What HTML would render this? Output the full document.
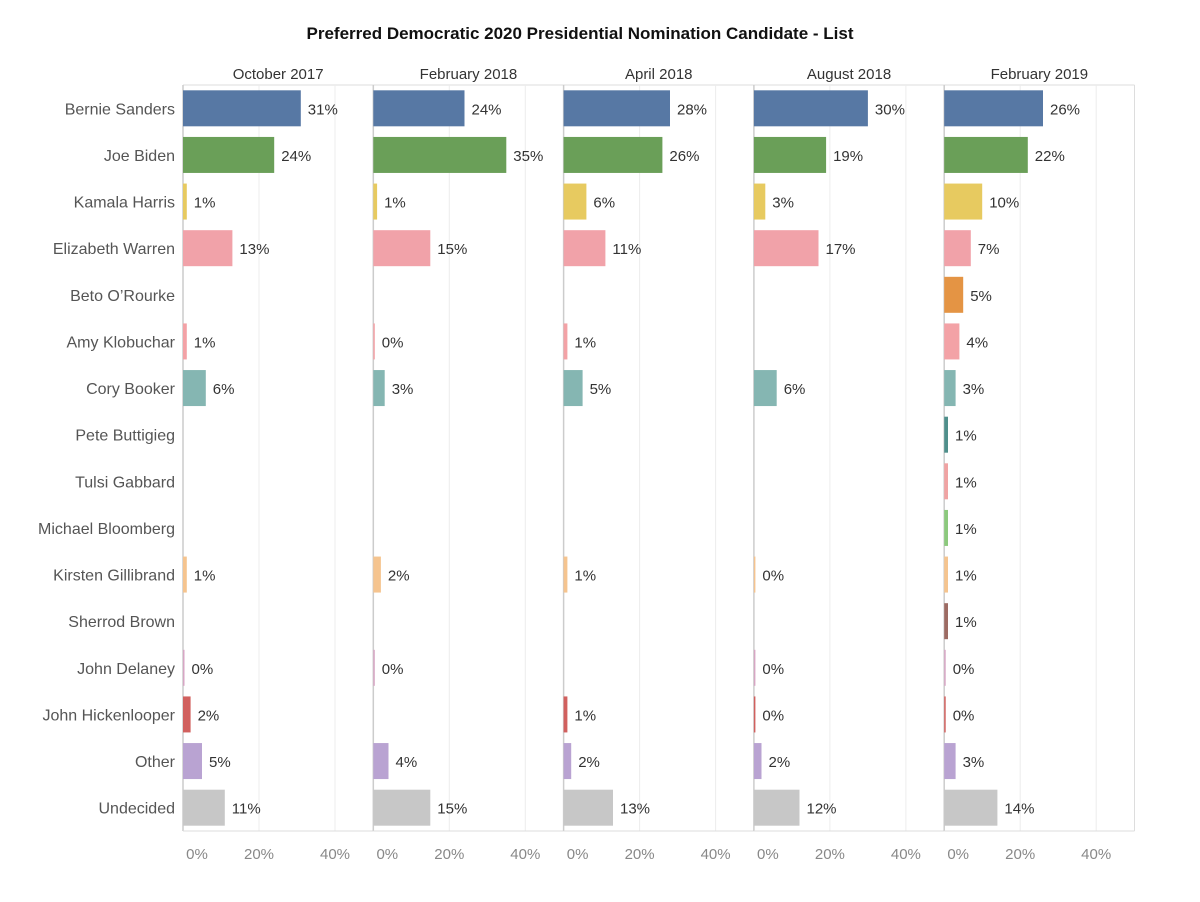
<!DOCTYPE html>
<html><head><meta charset="utf-8"><style>
body{margin:0;background:#fff;}
svg text{font-family:"Liberation Sans",sans-serif;}
</style></head><body>
<svg id="chart" width="1200" height="897"></svg>
<script>
const candidates=["Bernie Sanders","Joe Biden","Kamala Harris","Elizabeth Warren","Beto O\u2019Rourke","Amy Klobuchar","Cory Booker","Pete Buttigieg","Tulsi Gabbard","Michael Bloomberg","Kirsten Gillibrand","Sherrod Brown","John Delaney","John Hickenlooper","Other","Undecided"];
const periods=["October 2017","February 2018","April 2018","August 2018","February 2019"];
const oct2017=[31,24,1,13,null,1,6,null,null,null,1,null,0,2,5,11];
const feb2018=[24,35,1,15,null,0,3,null,null,null,2,null,0,null,4,15];
const apr2018=[28,26,6,11,null,1,5,null,null,null,1,null,null,1,2,13];
const aug2018=[30,19,3,17,null,null,6,null,null,null,0,null,0,0,2,12];
const feb2019=[26,22,10,7,5,4,3,1,1,1,1,1,0,0,3,14];
const series=[oct2017,feb2018,apr2018,aug2018,feb2019];
const ticks=[0,20,40];
const colors=["#5778a4","#6a9f58","#e7ca60","#f1a2a9","#e49444","#f3a2a6","#85b6b2","#4f8f8b","#f0a3a3","#8cc97d","#f5c48f","#9d6b63","#d7a6c4","#d1605e","#b9a3d2","#c7c7c7"];
const svg=document.getElementById('chart');
const NS="http://www.w3.org/2000/svg";
function mk(t,a,p){const e=document.createElementNS(NS,t);for(const k in a)e.setAttribute(k,a[k]);(p||svg).appendChild(e);return e;}
const top0=85,bottom0=831,rowH=(bottom0-top0)/candidates.length;
const left0=183,panelW=190.3,pxPer=3.8;
const y=i=>top0+rowH*(i+0.5);
const x=(p,v)=>left0+p*panelW+v*pxPer;
let t=mk('text',{x:580,y:39,'text-anchor':'middle','font-size':17,'font-weight':'bold',fill:'#111'});
t.textContent="Preferred Democratic 2020 Presidential Nomination Candidate - List";


// outer frame lines
let fr=mk('line',{x1:left0,y1:top0,x2:left0+5*panelW,y2:top0,stroke:'#ddd'});


fr=mk('line',{x1:left0+5*panelW,y1:top0,x2:left0+5*panelW,y2:bottom0,stroke:'#ddd'});


candidates.forEach((c,i)=>{
  const l=mk('text',{x:175,y:y(i)+6,'text-anchor':'end','font-size':16,fill:'#555'});
  l.textContent=c;
  
  
});
periods.forEach((p,pi)=>{
  const g=mk('g',{});
  
  
  const h=mk('text',{x:left0+pi*panelW+panelW/2,y:79,'text-anchor':'middle','font-size':15,fill:'#333'},g);
  h.textContent=p;
  
  
  ticks.forEach(tv=>{
    if(tv>0){const gl=mk('line',{x1:x(pi,tv),y1:top0,x2:x(pi,tv),y2:bottom0,stroke:'#ececec'},g);
    
    }
    const tl=mk('text',{x:tv===0?x(pi,tv)+14:x(pi,tv),y:859,'text-anchor':'middle','font-size':15,fill:'#888'},g);
    tl.textContent=tv+'%';
    
    
  });
  const ax=mk('line',{x1:x(pi,0),y1:top0,x2:x(pi,0),y2:bottom0,stroke:'#ccc','stroke-width':1.5},g);
  
  
  const bl=mk('line',{x1:x(pi,0),y1:bottom0,x2:x(pi,0)+panelW,y2:bottom0,stroke:'#ddd'},g);
  
  
  series[pi].forEach((v,i)=>{
    if(v===null)return;
    const w=Math.max(v*pxPer,1.5);
    const r=mk('rect',{x:x(pi,0),y:y(i)-18,width:w,height:36,fill:colors[i]},g);
    
    
    const vl=mk('text',{x:x(pi,0)+w+7,y:y(i)+6,'font-size':15,fill:'#333'},g);
    vl.textContent=v+'%';
    
    
  });
});
</script>
</body></html>
